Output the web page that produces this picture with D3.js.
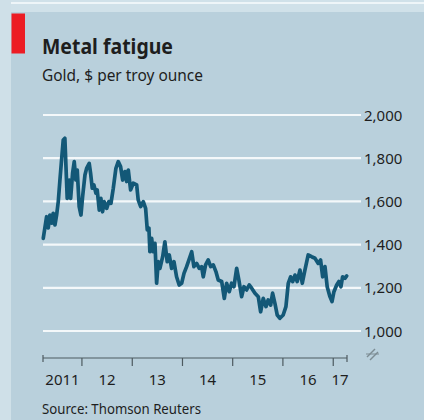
<!DOCTYPE html>
<html>
<head>
<meta charset="utf-8">
<script src="https://cdn.jsdelivr.net/npm/d3@7/dist/d3.min.js"></script>
<style>
html,body{margin:0;padding:0;background:#b9d0dc;}
svg{display:block;}
text{font-family:"Noto Sans","Open Sans",sans-serif;fill:#1e1e1e;}
</style>
</head>
<body>
<svg id="chart" width="424" height="420"></svg>
<script>
// ---- data ----
const dates = ["2011-03-26","2011-04-19","2011-05-01","2011-05-13","2011-05-26","2011-06-06","2011-06-19","2011-07-01","2011-07-13","2011-07-25","2011-08-06","2011-08-18","2011-08-30","2011-09-07","2011-09-16","2011-10-01","2011-10-11","2011-10-25","2011-11-06","2011-11-18","2011-11-28","2011-12-12","2011-12-25","2012-01-06","2012-01-23","2012-02-04","2012-02-23","2012-03-04","2012-03-16","2012-03-28","2012-04-12","2012-04-21","2012-05-06","2012-05-18","2012-05-30","2012-06-11","2012-06-29","2012-07-15","2012-07-30","2012-08-16","2012-09-04","2012-09-21","2012-10-08","2012-10-23","2012-11-09","2012-11-21","2012-12-03","2012-12-20","2013-01-08","2013-02-02","2013-02-13","2013-03-03","2013-03-22","2013-04-08","2013-04-20","2013-05-02","2013-05-09","2013-05-22","2013-06-02","2013-06-15","2013-06-27","2013-07-09","2013-07-21","2013-08-10","2013-08-26","2013-09-12","2013-09-27","2013-10-14","2013-10-31","2013-11-19","2013-12-08","2013-12-26","2014-01-12","2014-01-31","2014-02-17","2014-03-09","2014-03-25","2014-04-14","2014-05-03","2014-05-20","2014-06-01","2014-06-18","2014-07-07","2014-07-25","2014-08-13","2014-09-01","2014-09-18","2014-10-13","2014-11-01","2014-11-18","2014-12-07","2014-12-24","2015-01-10","2015-01-30","2015-02-15","2015-03-07","2015-03-24","2015-04-12","2015-05-01","2015-05-19","2015-06-12","2015-07-06","2015-07-23","2015-08-11","2015-08-31","2015-09-16","2015-10-04","2015-10-18","2015-11-04","2015-11-21","2015-12-10","2016-01-03","2016-01-23","2016-02-09","2016-02-26","2016-03-12","2016-03-29","2016-04-14","2016-05-04","2016-05-21","2016-06-09","2016-07-03","2016-07-28","2016-08-21","2016-09-14","2016-10-01","2016-10-16","2016-11-02","2016-11-18","2016-12-08","2016-12-23","2017-01-06","2017-01-26","2017-02-11","2017-02-26","2017-03-10","2017-03-27","2017-04-09"];
const gold = [1429,1529,1477,1537,1499,1545,1491,1537,1599,1699,1792,1884,1892,1761,1614,1699,1614,1730,1784,1699,1745,1576,1537,1622,1722,1753,1776,1730,1661,1676,1638,1653,1560,1614,1552,1599,1568,1599,1591,1661,1753,1784,1761,1699,1738,1692,1745,1653,1684,1676,1607,1576,1599,1568,1468,1476,1367,1429,1367,1406,1221,1321,1290,1344,1413,1321,1352,1290,1321,1251,1213,1221,1267,1298,1329,1367,1298,1313,1290,1298,1251,1306,1329,1298,1306,1275,1236,1229,1151,1221,1182,1221,1205,1290,1236,1159,1205,1190,1213,1198,1175,1159,1089,1151,1113,1144,1120,1175,1128,1074,1059,1074,1113,1221,1251,1229,1259,1229,1282,1221,1282,1352,1344,1337,1313,1329,1251,1298,1205,1159,1136,1182,1213,1229,1205,1251,1244,1255];
const yTicks = [1000,1200,1400,1600,1800,2000];
const xStart = "2011-03-24", xEnd = "2017-04-11";
const yearLabels = ["2011","12","13","14","15","16","17"];
const title = "Metal fatigue";
const subtitle = "Gold, $ per troy ounce";
const source = "Source: Thomson Reuters";

// ---- drawing ----
const parse = d3.utcParse("%Y-%m-%d");
const data = dates.map((d,i)=>({date:parse(d), v:gold[i]}));
const svg = d3.select("#chart");

// background bands
svg.append("rect").attr("x",0).attr("y",0).attr("width",424).attr("height",420).attr("fill","#b9d0dc");
svg.append("rect").attr("x",0).attr("y",0).attr("width",424).attr("height",12).attr("fill","#d0e1e9");
svg.append("rect").attr("x",0).attr("y",2).attr("width",424).attr("height",2).attr("fill","#eef5f8");
svg.append("rect").attr("x",0).attr("y",0).attr("width",11).attr("height",420).attr("fill","#cfe0e8");
svg.append("rect").attr("x",11.5).attr("y",13.5).attr("width",13.5).attr("height",40).attr("fill","#ec1c24");

const x = d3.scaleUtc().domain([parse(xStart), parse(xEnd)]).range([43, 347]);
const y = d3.scaleLinear().domain([1000, 2000]).range([331, 115]);

// gridlines
svg.append("g").selectAll("line").data(yTicks).join("line")
  .attr("x1",43).attr("x2",361).attr("y1",d=>y(d)).attr("y2",d=>y(d))
  .attr("stroke","#f4f8fa").attr("stroke-width",2.2);

// y labels
const fmt = d3.format(",");
svg.append("g").selectAll("text").data(yTicks).join("text")
  .attr("x",364).attr("y",d=>y(d)+5.5)
  .attr("font-size",15).text(d=>fmt(d));

// line
svg.append("path").datum(data)
  .attr("d", d3.line().x(d=>x(d.date)).y(d=>y(d.v)))
  .attr("fill","none").attr("stroke","#135877").attr("stroke-width",3.7)
  .attr("stroke-linejoin","round").attr("stroke-linecap","round");

// x axis
const axisY = 358;
const gx = svg.append("g").attr("transform",`translate(0,${axisY})`);
gx.append("line").attr("x1",x.range()[0]).attr("x2",x.range()[1]).attr("stroke","#4d5a60").attr("stroke-width",1.2);
const years = d3.utcYear.range(d3.utcYear.ceil(x.domain()[0]), x.domain()[1]);
gx.selectAll("line.tick").data(years).join("line").attr("class","tick")
  .attr("x1",d=>x(d)).attr("x2",d=>x(d)).attr("y1",0).attr("y2",8)
  .attr("stroke","#4d5a60").attr("stroke-width",1.2);
gx.selectAll("line.end").data(x.domain()).join("line").attr("class","end")
  .attr("x1",d=>x(d)).attr("x2",d=>x(d)).attr("y1",-3).attr("y2",4)
  .attr("stroke","#4d5a60").attr("stroke-width",1.2);

const yrStarts = d3.utcYear.range(d3.utcYear.floor(x.domain()[0]), x.domain()[1]);
gx.selectAll("text").data(yrStarts).join("text")
  .attr("x",(d,i)=>{
    const a = d3.max([d, x.domain()[0]]);
    const b = d3.min([d3.utcYear.offset(d,1), x.domain()[1]]);
    return (x(a)+x(b))/2;
  })
  .attr("y",27).attr("text-anchor","middle").attr("font-size",15)
  .text((d,i)=>yearLabels[i]);

// axis break symbol
const brk = svg.append("g").attr("stroke","#7d8c93").attr("stroke-width",1.4).attr("fill","none");
brk.append("path").attr("d","M367,357 L375,349");
brk.append("path").attr("d","M370,360 L378,352");
brk.append("path").attr("d","M366,354 L379,354").attr("stroke-width",1);

// titles
svg.append("text").attr("x",42).attr("y",53.5).attr("font-size",21).attr("font-weight","bold")
  .attr("textLength",131).attr("lengthAdjust","spacingAndGlyphs").text(title);
svg.append("text").attr("x",42).attr("y",80.5).attr("font-size",16)
  .attr("textLength",161).attr("lengthAdjust","spacingAndGlyphs").text(subtitle);
svg.append("text").attr("x",42).attr("y",414).attr("font-size",15)
  .attr("textLength",159).attr("lengthAdjust","spacingAndGlyphs").text(source);
</script>
</body>
</html>
